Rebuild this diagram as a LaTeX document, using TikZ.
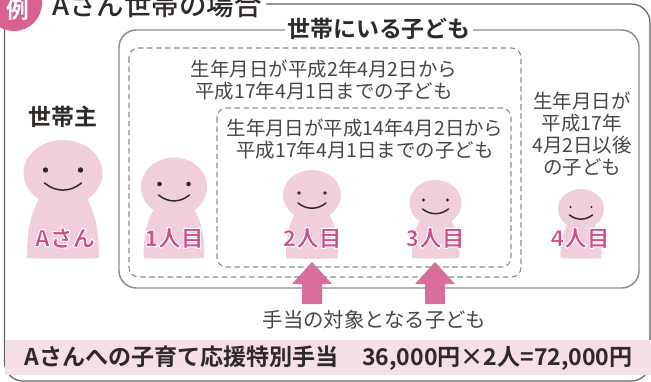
\documentclass[tikz,border=0pt]{standalone}
\usepackage{fontspec}
\setmainfont{Noto Sans CJK JP}[BoldFont={Noto Sans CJK JP Bold}]
\newfontfamily\tagfont{Noto Sans CJK JP Black}
\newfontfamily\midfont{Noto Sans CJK JP Medium}
\definecolor{txt}{HTML}{4A4644}
\definecolor{dark}{HTML}{2E2A28}
\definecolor{skin}{HTML}{F0CFDB}
\definecolor{band}{HTML}{F5DFE8}
\definecolor{hot}{HTML}{D4498A}
\definecolor{arrowpk}{HTML}{D76F9A}
\definecolor{circlepk}{HTML}{D9608F}
\definecolor{grayline}{HTML}{8C8C8C}
\newcommand{\halo}[1]{\special{pdf:code 2 Tr 0.8 w 1 1 1 RG}#1\special{pdf:code 0 Tr 1 w}}
\tikzset{
  x=0.75pt,y=-0.75pt,
  line/.style={text=txt,font=\fontsize{14.6pt}{16.7pt}\selectfont,align=center,inner sep=0pt},
  head/.style={text=dark,font=\fontsize{17.2pt}{18pt}\selectfont\bfseries,inner sep=0pt},
  tag/.style={text=hot,font=\fontsize{17pt}{18pt}\selectfont\tagfont,inner sep=0pt},
  dash box/.style={draw=grayline,line width=0.8pt,dash pattern=on 4.2pt off 2.6pt,rounded corners=7pt},
  eye/.style={fill=dark,draw=none},
  smile/.style={draw=dark,line width=1.1pt,line cap=round},
}
% #1 cx, #2 head cy, #3 rx, #4 ry, #5 half width of base, #6 eye dx, #7 eye dy, #8 smile dy, #9 eye r
\newcommand{\person}[9]{
  \fill[skin] (#1-#5,258) .. controls (#1-#5,#2+#4*0.9) and (#1-#5*0.55,#2+#4*0.85) .. (#1-#5*0.4,#2)
    -- (#1+#5*0.4,#2) .. controls (#1+#5*0.55,#2+#4*0.85) and (#1+#5,#2+#4*0.9) .. (#1+#5,258)
    .. controls (#1+#5*0.4,259) and (#1-#5*0.4,259) .. cycle;
  \fill[skin] (#1,#2) ellipse [x radius=#3,y radius=#4];
  \fill[eye] (#1-#6,#2+#7) circle [radius=#9];
  \fill[eye] (#1+#6,#2+#7) circle [radius=#9];
  \draw[smile] (#1-#6-1,#2+#8) .. controls (#1-#6*0.4,#2+#8+#3*0.24) and (#1+#6*0.4,#2+#8+#3*0.24) .. (#1+#6+1,#2+#8);
}
\newcommand{\pinkarrow}[1]{
  \fill[arrowpk] (#1,262) -- (#1+20,284) -- (#1+10,284) -- (#1+10,304) -- (#1-10,304) -- (#1-10,284) -- (#1-20,284) -- cycle;
}
\begin{document}
\begin{tikzpicture}
\useasboundingbox (0,0) rectangle (651,382);
\clip (0,0) rectangle (651,382);
\fill[white] (0,0) rectangle (651,382);
% outer frame
\draw[draw=grayline!70!black,line width=0.9pt,rounded corners=14pt] (4.5,-20) -- (4.5,381) -- (650,381) -- (650,4) -- (266,4);
\fill[band] (5,340) rectangle (651,375);
\fill[circlepk] (14,3) circle [radius=28];
\node[text=white,font=\fontsize{17pt}{18pt}\selectfont\bfseries,inner sep=0pt] (rei) at (18,10) {例};
\node[text=dark,font=\fontsize{20.6pt}{22pt}\selectfont\midfont,inner sep=0pt,anchor=west] (title) at (52,5) {Aさん世帯の場合};
% inner box
\draw[draw=grayline,line width=1.1pt,rounded corners=13pt] (119,30) rectangle (639,288);
\node[fill=white,head,inner xsep=2pt] (kids) at (379,29) {世帯にいる子ども};
\draw[dash box] (129,48) rectangle (521,277);
\draw[dash box,fill=white] (217,108) rectangle (511,267);
\node[line] (t1) at (324,80) {生年月日が平成2年4月2日から\\平成17年4月1日までの子ども};
\node[line] (t2) at (365,139) {生年月日が平成14年4月2日から\\平成17年4月1日までの子ども};
\node[line] (t3) at (582,134) {生年月日が\\平成17年\\4月2日以後\\の子ども};
\node[head] (master) at (63,117) {世帯主};
% people
\person{63}{173}{39.5}{33}{36}{17.5}{-3}{10}{2.7}
\person{174}{187}{33}{29.5}{30.5}{14.5}{-3}{8}{2.3}
\person{312}{195}{29}{25}{26}{13}{-2}{8}{1.9}
\person{435.5}{203}{26}{23}{23.5}{12}{-3}{6}{1.7}
\person{581}{209}{23}{20}{20.5}{10.5}{-2}{6}{1.2}
\node[tag] (pa) at (65,238) {\halo{Aさん}};
\node[tag] (p1) at (174,238) {\halo{1人目}};
\node[tag] (p2) at (312,238) {\halo{2人目}};
\node[tag] (p3) at (435,238) {\halo{3人目}};
\node[tag] (p4) at (580,238) {\halo{4人目}};
\pinkarrow{312}
\pinkarrow{435}
\node[text=txt,font=\fontsize{15.3pt}{17pt}\selectfont,inner sep=0pt] (target) at (374.5,320) {手当の対象となる子ども};
\node[text=dark,font=\fontsize{17.3pt}{18pt}\selectfont\bfseries,inner sep=0pt] (sum) at (328.5,358) {Aさんへの子育て応援特別手当\hspace{1em}36,000円×2人=72,000円};
\end{tikzpicture}
\end{document}
